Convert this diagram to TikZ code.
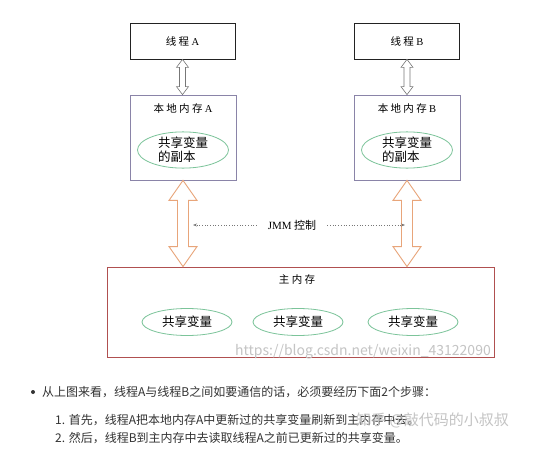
\documentclass[tikz,border=0pt]{standalone}
\usepackage{fontspec}
\setmainfont{Noto Sans CJK SC}
\newfontfamily\serifla{Liberation Serif}
\usetikzlibrary{calc,shapes.geometric,arrows.meta}
\definecolor{thbox}{HTML}{222222}
\definecolor{lmbox}{HTML}{8A84A8}
\definecolor{mmbox}{HTML}{B05050}
\definecolor{ellg}{HTML}{7CC49A}
\definecolor{orarr}{HTML}{E8A57A}
\definecolor{grarr}{HTML}{777777}
\definecolor{txt}{HTML}{333333}
\definecolor{wm}{HTML}{C4C4C4}
\newcommand\blockarrow[6]{%
  \draw[#1] let \p1=(#2), \p2=(#3) in
    (\x1,\y1) -- (\x1+#4,\y1-#6) -- (\x1+#5,\y1-#6) -- (\x1+#5,\y2+#6)
    -- (\x1+#4,\y2+#6) -- (\x1,\y2) -- (\x1-#4,\y2+#6) -- (\x1-#5,\y2+#6)
    -- (\x1-#5,\y1-#6) -- (\x1-#4,\y1-#6) -- cycle;}
\tikzset{
  thread/.style={draw=thbox, line width=0.8pt, minimum width=105pt, minimum height=36pt, inner sep=0pt, font=\fontsize{10.5}{12}\selectfont},
  localbox/.style={draw=lmbox, line width=0.8pt, minimum width=106pt, minimum height=85pt, inner sep=0pt},
  mainbox/.style={draw=mmbox, line width=0.8pt, minimum width=387pt, minimum height=90pt, inner sep=0pt},
  ell/.style={ellipse, draw=ellg, line width=0.8pt, inner sep=0pt, font=\fontsize{12.5}{14}\selectfont},
  lbl/.style={font=\fontsize{10.5}{12}\selectfont, text=black, inner sep=1pt},
  grayarr/.style={draw=grarr, fill=white, line width=0.6pt, line join=miter},
  orangearr/.style={draw=orarr, fill=white, line width=0.9pt, line join=miter},
  dotarr/.style={draw=grarr, dotted, line width=0.7pt, -{Stealth[length=4pt,width=3pt]}},
  bodytxt/.style={anchor=west, text=txt, inner sep=0pt, font=\fontsize{12}{14}\selectfont},
}
\begin{document}
\begin{tikzpicture}[x=1pt,y=-1pt]
\useasboundingbox[fill=white] (0,0) rectangle (550,450);
% threads
\node[thread] (tA) at (182.5,41) {线 程 {\serifla A}};
\node[thread] (tB) at (407,41) {线 程 {\serifla B}};
% local memories
\node[localbox] (lA) at (183,137.5) {};
\node[localbox] (lB) at (407,137.5) {};
\node[lbl] (lAt) at (183,109) {本 地 内 存 {\serifla A}};
\node[lbl] (lBt) at (407,109) {本 地 内 存 {\serifla B}};
\node[ell, minimum width=91pt, minimum height=36pt, align=left] (eA) at (183,150) {共享变量\\的副本};
\node[ell, minimum width=91pt, minimum height=36pt, align=left] (eB) at (407,150) {共享变量\\的副本};
% main memory
\node[mainbox] (mm) at (300.5,312) {};
\node[lbl] (mmt) at (297,280) {主 内 存};
\node[ell, minimum width=90pt, minimum height=27pt] (v1) at (187,322) {共享变量};
\node[ell, minimum width=90pt, minimum height=27pt] (v2) at (298,322) {共享变量};
\node[ell, minimum width=90pt, minimum height=27pt] (v3) at (413,322) {共享变量};
% hollow grey arrows
\blockarrow{grayarr}{tA.south}{lA.north}{6pt}{3pt}{8pt}
\blockarrow{grayarr}{tB.south}{lB.north}{6pt}{3pt}{8pt}
% orange arrows
\blockarrow{orangearr}{lA.south}{lA.south |- mm.north}{14pt}{5.5pt}{20pt}
\blockarrow{orangearr}{lB.south}{lB.south |- mm.north}{14pt}{5.5pt}{20pt}
% JMM control
\node[lbl, font=\fontsize{11}{12}\selectfont] (jmm) at (292,225) {{\serifla JMM} 控制};
\coordinate (jl) at (193,225);
\coordinate (jr) at (405,225);
\draw[dotarr] ($(jmm.west)+(-10,0)$) -- (jl);
\draw[dotarr] ($(jmm.east)+(10,0)$) -- (jr);
% watermark
\node[text=wm, font=\fontsize{14}{16}\selectfont, inner sep=0pt] (wm1) at (363,352) {https://blog.csdn.net/weixin\_43122090};
% body text
\node[circle, fill=txt, inner sep=0pt, minimum size=4pt] (bul) at (33,392) {};
\node[bodytxt] (l1) at (42,392) {从上图来看，线程A与线程B之间如要通信的话，必须要经历下面2个步骤：};
\node[bodytxt] (l2) at (55,420) {1. 首先，线程A把本地内存A中更新过的共享变量刷新到主内存中去。};
\node[bodytxt] (l3) at (55,438) {2. 然后，线程B到主内存中去读取线程A之前已更新过的共享变量。};
\node[text=wm, font=\fontsize{15}{17}\selectfont, inner sep=0pt, anchor=west] (wm2) at (356,420) {知乎 @敲代码的小叔叔};
\end{tikzpicture}
\end{document}
